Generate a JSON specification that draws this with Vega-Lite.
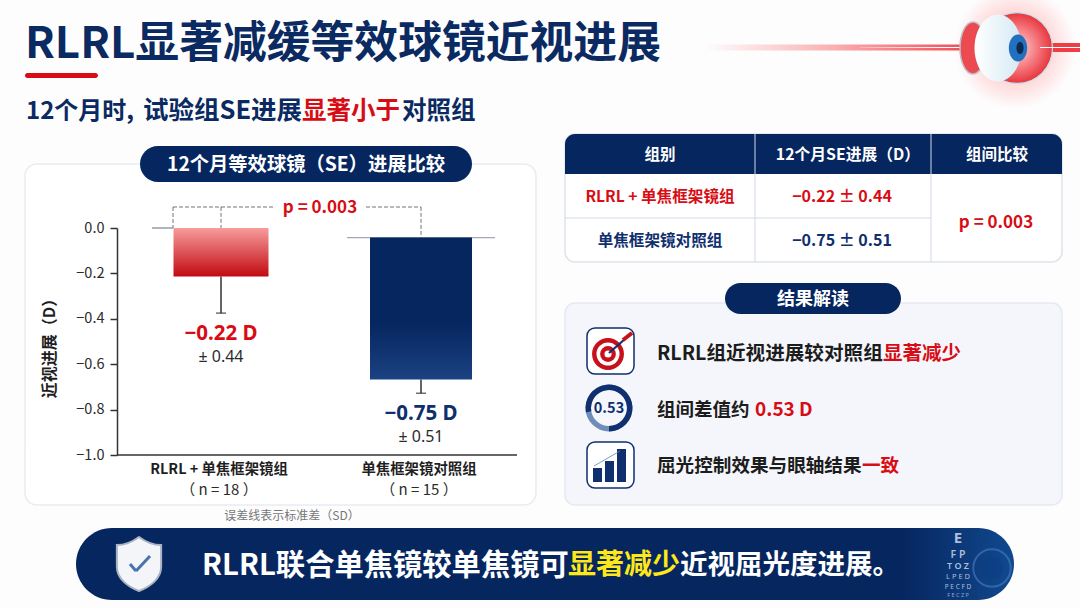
{
  "$schema": "https://vega.github.io/schema/vega-lite/v6.json",
  "width": 1080,
  "height": 608,
  "autosize": "none",
  "padding": 0,
  "background": "#fdfdfe",
  "config": {"view": {"stroke": null}, "font": "Noto Sans CJK SC"},
  "data": {"values": [{"item": "frame"}]},
  "resolve": {"scale": {"x": "independent", "y": "independent", "color": "independent"}, "axis": {"x": "independent", "y": "independent"}},
  "layer": [
    {"mark": {"type": "point", "shape": "circle", "x": 1015, "y": 48, "size": 15000, "filled": true, "opacity": 1, "fill": {"gradient": "radial", "stops": [{"offset": 0, "color": "#ffc0c0"}, {"offset": 0.62, "color": "#ffdcdc"}, {"offset": 1, "color": "#fdfdfe"}]}}, "encoding": {}},
    {"mark": {"type": "rect", "x": 705, "x2": 975, "y": 44.5, "y2": 50.5, "fill": {"gradient": "linear", "x1": 0, "y1": 0, "x2": 1, "y2": 0, "stops": [{"offset": 0, "color": "#fdfdfe"}, {"offset": 0.45, "color": "#fbb4b6"}, {"offset": 1, "color": "#f0464c"}]}}, "encoding": {}},
    {"mark": {"type": "rect", "x": 860, "x2": 1080, "y": 47, "y2": 48, "fill": {"gradient": "linear", "x1": 0, "y1": 0, "x2": 1, "y2": 0, "stops": [{"offset": 0, "color": "#fbb4b6"}, {"offset": 0.4, "color": "#ffffff"}, {"offset": 1, "color": "#ffffff"}]}}, "encoding": {}},
    {"mark": {"type": "point", "shape": "M-0.5,0 A0.5,1 0 1,1 0.5,0 A0.5,1 0 1,1 -0.5,0 Z", "x": 973, "y": 48, "size": 2700, "filled": true, "opacity": 1, "fill": "#ea4a50", "stroke": "#b9bec8", "strokeWidth": 1.5}, "encoding": {}},
    {"mark": {"type": "rect", "x": 1052, "x2": 1080, "y": 43, "y2": 52, "fill": "#ee3d44"}, "encoding": {}},
    {"mark": {"type": "point", "shape": "circle", "x": 1017, "y": 48, "size": 5030, "filled": true, "opacity": 1, "stroke": "#bfe3ef", "strokeWidth": 1.2, "fill": {"gradient": "radial", "stops": [{"offset": 0, "color": "#ffd9da"}, {"offset": 0.6, "color": "#f4747a"}, {"offset": 1, "color": "#e8353c"}]}}, "encoding": {}},
    {"mark": {"type": "rect", "x": 1040, "x2": 1080, "y": 47, "y2": 48, "fill": "#ffffff"}, "encoding": {}},
    {"mark": {"type": "point", "shape": "M-0.7,0 A0.7,1 0 1,1 0.7,0 A0.7,1 0 1,1 -0.7,0 Z", "x": 998, "y": 48, "size": 4500, "filled": true, "opacity": 1, "fill": {"gradient": "linear", "x1": 0, "y1": 0, "x2": 1, "y2": 0, "stops": [{"offset": 0, "color": "#ffffff"}, {"offset": 1, "color": "#d5e9f4"}]}}, "encoding": {}},
    {"mark": {"type": "point", "shape": "M-0.68,0 A0.68,1 0 1,1 0.68,0 A0.68,1 0 1,1 -0.68,0 Z", "x": 1018, "y": 48, "size": 729, "filled": true, "opacity": 1, "fill": "#2270bf"}, "encoding": {}},
    {"mark": {"type": "point", "shape": "M-0.6,0 A0.6,1 0 1,1 0.6,0 A0.6,1 0 1,1 -0.6,0 Z", "x": 1020, "y": 48, "size": 144, "filled": true, "opacity": 1, "fill": "#0c2b52"}, "encoding": {}},

    {"mark": {"type": "text", "text": "RLRL显著减缓等效球镜近视进展", "x": 25, "y": 58, "align": "left", "baseline": "alphabetic", "fontSize": 43.8, "fontWeight": 700, "color": "#0a2a61"}, "encoding": {}},
    {"mark": {"type": "rect", "x": 25, "x2": 98, "y": 73, "y2": 78, "fill": "#d80c14", "cornerRadius": 2.5}, "encoding": {}},
    {"mark": {"type": "text", "text": "12个月时,", "x": 26, "y": 119, "align": "left", "baseline": "alphabetic", "fontSize": 24, "fontWeight": 700, "color": "#0a2a61"}, "encoding": {}},
    {"mark": {"type": "text", "text": "试验组SE进展", "x": 143, "y": 119, "align": "left", "baseline": "alphabetic", "fontSize": 25.5, "fontWeight": 700, "color": "#0a2a61"}, "encoding": {}},
    {"mark": {"type": "text", "text": "显著小于", "x": 302, "y": 119, "align": "left", "baseline": "alphabetic", "fontSize": 24.5, "fontWeight": 700, "color": "#d80c14"}, "encoding": {}},
    {"mark": {"type": "text", "text": "对照组", "x": 402, "y": 119, "align": "left", "baseline": "alphabetic", "fontSize": 24.5, "fontWeight": 700, "color": "#0a2a61"}, "encoding": {}},

    {"mark": {"type": "rect", "x": 25, "x2": 536, "y": 164, "y2": 505, "fill": "#ffffff", "stroke": "#e8ebf2", "strokeWidth": 1.5, "cornerRadius": 12}, "encoding": {}},
    {"mark": {"type": "rect", "x": 140, "x2": 472, "y": 146, "y2": 182, "fill": "#06265f", "cornerRadius": 18}, "encoding": {}},
    {"mark": {"type": "text", "text": "12个月等效球镜（SE）进展比较", "x": 306, "y": 165, "align": "center", "baseline": "middle", "fontSize": 19.3, "fontWeight": 700, "color": "#ffffff"}, "encoding": {}},

    {
      "data": {"values": [
        {"group": "RLRL + 单焦框架镜组", "top": 0},
        {"group": "单焦框架镜对照组", "top": -0.042}
      ]},
      "mark": {"type": "rule", "opacity": 0},
      "encoding": {
        "x": {
          "field": "group", "type": "nominal",
          "scale": {"type": "band", "domain": ["RLRL + 单焦框架镜组", "单焦框架镜对照组"], "range": [121, 521]},
          "axis": {"title": null, "orient": "bottom", "offset": -153, "zindex": 5, "domain": false, "ticks": false, "labelAngle": 0, "labelPadding": 7.5, "labelOffset": -2, "labelFontSize": 14.4, "labelFontWeight": 600, "labelColor": "#1f1f1f", "labelLimit": 0}
        },
        "y": {
          "field": "top", "type": "quantitative",
          "scale": {"domain": [-1, 0], "range": [455, 228], "nice": false, "zero": false},
          "axis": {"title": "近视进展（D）", "titleFontSize": 16, "titleFontWeight": 700, "titleColor": "#1f1f1f", "titleX": -60, "titleY": 344, "orient": "left", "offset": -117, "zindex": 5, "values": [-1, -0.8, -0.6, -0.4, -0.2, 0], "format": ".1f", "grid": false, "tickSize": 7, "tickWidth": 1.5, "tickColor": "#333333", "domainColor": "#333333", "domainWidth": 1.5, "labelFontSize": 14.5, "labelColor": "#2b2b2b", "labelPadding": 6}
        }
      }
    },
    {
      "data": {"values": [
        {"group": "RLRL + 单焦框架镜组", "top": 0, "bottom": -0.214, "whisker": -0.375, "bracket": 0.093, "mean": "−0.22 D", "sd": "± 0.44", "n": "（ n = 18 ）"},
        {"group": "单焦框架镜对照组", "top": -0.042, "bottom": -0.667, "whisker": -0.728, "bracket": 0.093, "mean": "−0.75 D", "sd": "± 0.51", "n": "（ n = 15 ）"}
      ]},
      "encoding": {
        "x": {"field": "group", "type": "nominal", "axis": null, "scale": {"type": "band", "domain": ["RLRL + 单焦框架镜组", "单焦框架镜对照组"], "range": [121, 521]}},
        "y": {"field": "top", "type": "quantitative", "axis": null, "scale": {"domain": [-1, 0], "range": [455, 228], "nice": false, "zero": false}}
      },
      "layer": [
        {
          "mark": {"type": "rule", "strokeWidth": 1, "strokeDash": [4, 2], "color": "#6f747c"},
          "encoding": {
            "y": {"field": "bracket", "type": "quantitative", "axis": null, "scale": {"domain": [-1, 0], "range": [455, 228], "nice": false, "zero": false}},
            "y2": {"field": "top"}
          }
        },
        {
          "mark": {"type": "tick", "size": 148, "thickness": 1.2, "color": "#7c8494"},
          "transform": [{"filter": "datum.n == '（ n = 15 ）'"}],
          "encoding": {}
        },
        {
          "mark": {"type": "rule", "x": 152, "x2": 173, "strokeWidth": 1.2, "color": "#7c8494"},
          "transform": [{"filter": "datum.n == '（ n = 18 ）'"}],
          "encoding": {"x": null}
        },
        {
          "mark": {"type": "rule", "strokeWidth": 1.5, "color": "#333333"},
          "encoding": {
            "y": {"field": "bottom", "type": "quantitative", "axis": null, "scale": {"domain": [-1, 0], "range": [455, 228], "nice": false, "zero": false}},
            "y2": {"field": "whisker"}
          }
        },
        {
          "mark": {"type": "tick", "size": 10, "thickness": 1.5, "color": "#333333"},
          "encoding": {
            "y": {"field": "whisker", "type": "quantitative", "axis": null, "scale": {"domain": [-1, 0], "range": [455, 228], "nice": false, "zero": false}}
          }
        },
        {
          "mark": {"type": "bar", "size": 95, "fill": {"gradient": "linear", "x1": 0, "y1": 0, "x2": 0, "y2": 1, "stops": [{"offset": 0, "color": "#f79c9c"}, {"offset": 1, "color": "#c10a11"}]}},
          "transform": [{"filter": "datum.n == '（ n = 18 ）'"}],
          "encoding": {"y2": {"field": "bottom"}}
        },
        {
          "mark": {"type": "bar", "size": 102, "fill": {"gradient": "linear", "x1": 0, "y1": 0, "x2": 0, "y2": 1, "stops": [{"offset": 0, "color": "#06265f"}, {"offset": 0.6, "color": "#06265f"}, {"offset": 1, "color": "#1b4282"}]}},
          "transform": [{"filter": "datum.n == '（ n = 15 ）'"}],
          "encoding": {"y2": {"field": "bottom"}}
        },
        {
          "mark": {"type": "text", "dy": 20.5, "fontSize": 20.5, "fontWeight": 700, "baseline": "middle", "font": "Noto Sans"},
          "encoding": {
            "y": {"field": "whisker", "type": "quantitative", "axis": null, "scale": {"domain": [-1, 0], "range": [455, 228], "nice": false, "zero": false}},
            "text": {"field": "mean"},
            "color": {"field": "group", "type": "nominal", "legend": null, "scale": {"domain": ["RLRL + 单焦框架镜组", "单焦框架镜对照组"], "range": ["#d80c14", "#0f2f6e"]}}
          }
        },
        {
          "mark": {"type": "text", "dy": 43.5, "fontSize": 16, "baseline": "middle", "color": "#2b2b2b", "font": "Noto Sans"},
          "encoding": {
            "y": {"field": "whisker", "type": "quantitative", "axis": null, "scale": {"domain": [-1, 0], "range": [455, 228], "nice": false, "zero": false}},
            "text": {"field": "sd"}
          }
        },
        {
          "mark": {"type": "text", "y": 490, "dx": -2, "fontSize": 15, "baseline": "middle", "color": "#2b2b2b"},
          "encoding": {"y": null, "text": {"field": "n"}}
        }
      ]
    },
    {"mark": {"type": "rule", "strokeWidth": 1.5, "color": "#333333"}, "encoding": {"x": {"value": 117}, "x2": {"value": 517}, "y": {"value": 455}}},
    {"mark": {"type": "rule", "strokeWidth": 1, "strokeDash": [4, 2], "color": "#6f747c"}, "encoding": {"x": {"value": 173}, "x2": {"value": 275}, "y": {"value": 207}}},
    {"mark": {"type": "rule", "strokeWidth": 1, "strokeDash": [4, 2], "color": "#6f747c"}, "encoding": {"x": {"value": 366}, "x2": {"value": 421}, "y": {"value": 207}}},
    {"mark": {"type": "rule", "strokeWidth": 1, "strokeDash": [4, 2], "color": "#6f747c"}, "encoding": {"x": {"value": 173}, "y": {"value": 207}, "y2": {"value": 228}}},
    {"mark": {"type": "text", "text": "p = 0.003", "x": 320, "y": 208, "align": "center", "baseline": "middle", "fontSize": 17, "fontWeight": 700, "color": "#d80c14"}, "encoding": {}},
    {"mark": {"type": "text", "text": "误差线表示标准差（SD）", "x": 292, "y": 516, "align": "center", "baseline": "middle", "fontSize": 12, "color": "#777777"}, "encoding": {}},

    {"mark": {"type": "rect", "x": 565, "x2": 1062, "y": 134, "y2": 262, "fill": "#ffffff", "stroke": "#dde2ec", "strokeWidth": 1.5, "cornerRadius": 10}, "encoding": {}},
    {"mark": {"type": "rect", "x": 565, "x2": 1062, "y": 134, "y2": 174, "fill": "#06265f", "cornerRadiusTopLeft": 10, "cornerRadiusTopRight": 10}, "encoding": {}},
    {"mark": {"type": "rule", "strokeWidth": 1, "color": "#d3d9e6"}, "encoding": {"x": {"value": 755}, "y": {"value": 134}, "y2": {"value": 262}}},
    {"mark": {"type": "rule", "strokeWidth": 1, "color": "#d3d9e6"}, "encoding": {"x": {"value": 931}, "y": {"value": 134}, "y2": {"value": 262}}},
    {"mark": {"type": "rule", "strokeWidth": 1, "color": "#d3d9e6"}, "encoding": {"x": {"value": 565}, "x2": {"value": 931}, "y": {"value": 218}}},
    {"mark": {"type": "text", "text": "组别", "x": 660, "y": 154.5, "align": "center", "baseline": "middle", "fontSize": 15.5, "fontWeight": 700, "color": "#ffffff"}, "encoding": {}},
    {"mark": {"type": "text", "text": "12个月SE进展（D）", "x": 848, "y": 154.5, "align": "center", "baseline": "middle", "fontSize": 15.8, "fontWeight": 700, "color": "#ffffff"}, "encoding": {}},
    {"mark": {"type": "text", "text": "组间比较", "x": 997, "y": 154.5, "align": "center", "baseline": "middle", "fontSize": 15.5, "fontWeight": 700, "color": "#ffffff"}, "encoding": {}},
    {
      "data": {"values": [
        {"group": "RLRL + 单焦框架镜组", "progress": "−0.22 ± 0.44"},
        {"group": "单焦框架镜对照组", "progress": "−0.75 ± 0.51"}
      ]},
      "encoding": {
        "y": {"field": "group", "type": "nominal", "axis": null, "scale": {"type": "band", "domain": ["RLRL + 单焦框架镜组", "单焦框架镜对照组"], "range": [174, 262]}},
        "color": {"field": "group", "type": "nominal", "legend": null, "scale": {"domain": ["RLRL + 单焦框架镜组", "单焦框架镜对照组"], "range": ["#d80c14", "#0f2f6e"]}}
      },
      "layer": [
        {"mark": {"type": "text", "x": 660, "dy": 0.5, "baseline": "middle", "fontSize": 15.6, "fontWeight": 700}, "encoding": {"text": {"field": "group"}}},
        {"mark": {"type": "text", "x": 842, "dy": 0.5, "baseline": "middle", "fontSize": 16, "fontWeight": 700}, "encoding": {"text": {"field": "progress"}}}
      ]
    },
    {"mark": {"type": "text", "text": "p = 0.003", "x": 996, "y": 222.5, "align": "center", "baseline": "middle", "fontSize": 17, "fontWeight": 700, "color": "#d80c14"}, "encoding": {}},

    {"mark": {"type": "rect", "x": 565, "x2": 1062, "y": 303, "y2": 505, "fill": "#f4f6fb", "stroke": "#e6e9f1", "strokeWidth": 1.5, "cornerRadius": 10}, "encoding": {}},
    {"mark": {"type": "rect", "x": 725, "x2": 901, "y": 283, "y2": 314, "fill": "#06265f", "cornerRadius": 15.5}, "encoding": {}},
    {"mark": {"type": "text", "text": "结果解读", "x": 813, "y": 299.5, "align": "center", "baseline": "middle", "fontSize": 18, "fontWeight": 700, "color": "#ffffff"}, "encoding": {}},

    {"mark": {"type": "rect", "x": 587, "x2": 634, "y": 328, "y2": 374, "fill": "#ffffff", "stroke": "#0f2f6e", "strokeWidth": 1.5, "cornerRadius": 8}, "encoding": {}},
    {"mark": {"type": "point", "shape": "circle", "x": 608, "y": 354, "size": 1018, "filled": true, "opacity": 1, "fill": "#c8101a"}, "encoding": {}},
    {"mark": {"type": "point", "shape": "circle", "x": 608, "y": 354, "size": 530, "filled": true, "opacity": 1, "fill": "#ffffff"}, "encoding": {}},
    {"mark": {"type": "point", "shape": "circle", "x": 608, "y": 354, "size": 250, "filled": true, "opacity": 1, "fill": "#c8101a"}, "encoding": {}},
    {"mark": {"type": "point", "shape": "circle", "x": 608, "y": 354, "size": 50, "filled": true, "opacity": 1, "fill": "#ffffff"}, "encoding": {}},
    {"mark": {"type": "rule", "strokeWidth": 2.2, "color": "#0f2f6e"}, "encoding": {"x": {"value": 609}, "y": {"value": 353}, "x2": {"value": 625}, "y2": {"value": 339}}},
    {"mark": {"type": "rule", "strokeWidth": 4, "color": "#c8101a"}, "encoding": {"x": {"value": 623}, "y": {"value": 340}, "x2": {"value": 632}, "y2": {"value": 333}}},

    {"mark": {"type": "arc", "x": 609, "y": 408, "innerRadius": 18, "outerRadius": 23.5, "theta": 0, "theta2": 6.2832, "fill": "#6f8db9"}, "encoding": {}},
    {"mark": {"type": "arc", "x": 609, "y": 408, "innerRadius": 18, "outerRadius": 23.5, "theta": -1.75, "theta2": 3.14, "fill": "#0f2f6e"}, "encoding": {}},
    {"mark": {"type": "text", "text": "0.53", "x": 609, "y": 409, "align": "center", "baseline": "middle", "fontSize": 14.5, "fontWeight": 700, "color": "#0f2f6e"}, "encoding": {}},

    {"mark": {"type": "rect", "x": 587, "x2": 634, "y": 442, "y2": 488, "fill": "#ffffff", "stroke": "#0f2f6e", "strokeWidth": 1.5, "cornerRadius": 8}, "encoding": {}},
    {"mark": {"type": "rect", "x": 593, "x2": 602, "y": 468, "y2": 482, "fill": "#0f2f6e"}, "encoding": {}},
    {"mark": {"type": "rect", "x": 605, "x2": 614, "y": 461, "y2": 482, "fill": "#0f2f6e"}, "encoding": {}},
    {"mark": {"type": "rect", "x": 617, "x2": 626, "y": 449, "y2": 482, "fill": "#0f2f6e"}, "encoding": {}},
    {"mark": {"type": "rule", "strokeWidth": 0.8, "color": "#5d7fb3"}, "encoding": {"x": {"value": 594}, "y": {"value": 466}, "x2": {"value": 620}, "y2": {"value": 451}}},

    {"mark": {"type": "text", "text": "RLRL组近视进展较对照组", "x": 657, "y": 354, "align": "left", "baseline": "middle", "fontSize": 19.6, "fontWeight": 700, "color": "#1c1c1c"}, "encoding": {}},
    {"mark": {"type": "text", "text": "显著减少", "x": 883, "y": 354, "align": "left", "baseline": "middle", "fontSize": 19.5, "fontWeight": 700, "color": "#d80c14"}, "encoding": {}},
    {"mark": {"type": "text", "text": "组间差值约", "x": 657, "y": 409.5, "align": "left", "baseline": "middle", "fontSize": 18.5, "fontWeight": 700, "color": "#1c1c1c"}, "encoding": {}},
    {"mark": {"type": "text", "text": "0.53 D", "x": 755, "y": 409.5, "align": "left", "baseline": "middle", "fontSize": 19, "fontWeight": 700, "color": "#d80c14"}, "encoding": {}},
    {"mark": {"type": "text", "text": "屈光控制效果与眼轴结果", "x": 657, "y": 466, "align": "left", "baseline": "middle", "fontSize": 18.6, "fontWeight": 700, "color": "#1c1c1c"}, "encoding": {}},
    {"mark": {"type": "text", "text": "一致", "x": 862, "y": 466, "align": "left", "baseline": "middle", "fontSize": 18.6, "fontWeight": 700, "color": "#d80c14"}, "encoding": {}},

    {"mark": {"type": "rect", "x": 76, "x2": 1014, "y": 528, "y2": 600, "cornerRadius": 36, "fill": {"gradient": "linear", "x1": 0, "y1": 0, "x2": 1, "y2": 0, "stops": [{"offset": 0, "color": "#06265f"}, {"offset": 0.88, "color": "#06265f"}, {"offset": 1, "color": "#11498f"}]}}, "encoding": {}},
    {"mark": {"type": "point", "shape": "M0,-1 C0.3,-0.78 0.6,-0.7 0.82,-0.7 L0.82,0.1 C0.82,0.55 0.4,0.85 0,1 C-0.4,0.85 -0.82,0.55 -0.82,0.1 L-0.82,-0.7 C-0.6,-0.7 -0.3,-0.78 0,-1 Z", "x": 139, "y": 564, "size": 2916, "filled": true, "opacity": 1, "fill": "#f3f5f9", "stroke": "#a9b2c2", "strokeWidth": 2}, "encoding": {}},
    {"mark": {"type": "rule", "strokeWidth": 3, "color": "#4a72ad"}, "encoding": {"x": {"value": 130}, "y": {"value": 564}, "x2": {"value": 136}, "y2": {"value": 571}}},
    {"mark": {"type": "rule", "strokeWidth": 3, "color": "#4a72ad"}, "encoding": {"x": {"value": 136}, "y": {"value": 571}, "x2": {"value": 150}, "y2": {"value": 556}}},
    {"mark": {"type": "text", "text": "RLRL联合单焦镜较单焦镜可", "x": 202, "y": 566, "align": "left", "baseline": "middle", "fontSize": 29.3, "fontWeight": 700, "color": "#ffffff"}, "encoding": {}},
    {"mark": {"type": "text", "text": "显著减少", "x": 568, "y": 566, "align": "left", "baseline": "middle", "fontSize": 28, "fontWeight": 700, "color": "#ffe81a"}, "encoding": {}},
    {"mark": {"type": "text", "text": "近视屈光度进展。", "x": 680, "y": 566, "align": "left", "baseline": "middle", "fontSize": 27.5, "fontWeight": 700, "color": "#ffffff"}, "encoding": {}},
    {"mark": {"type": "point", "shape": "circle", "x": 992, "y": 568, "size": 1400, "filled": false, "opacity": 0.7, "stroke": "#3f74bd", "strokeWidth": 2}, "encoding": {}},
    {"mark": {"type": "point", "shape": "circle", "x": 992, "y": 568, "size": 500, "filled": true, "opacity": 0.6, "fill": "#0b3d84"}, "encoding": {}},
    {"mark": {"type": "text", "text": "E", "x": 958, "y": 538, "align": "center", "baseline": "middle", "fontSize": 15, "fontWeight": 700, "font": "Noto Sans", "color": "#aebfda"}, "encoding": {}},
    {"mark": {"type": "text", "text": "F P", "x": 958, "y": 555, "align": "center", "baseline": "middle", "fontSize": 10.5, "fontWeight": 600, "font": "Noto Sans", "color": "#aebfda"}, "encoding": {}},
    {"mark": {"type": "text", "text": "T O Z", "x": 958, "y": 566, "align": "center", "baseline": "middle", "fontSize": 9, "fontWeight": 600, "font": "Noto Sans", "color": "#aebfda"}, "encoding": {}},
    {"mark": {"type": "text", "text": "L P E D", "x": 958, "y": 577, "align": "center", "baseline": "middle", "fontSize": 7.5, "font": "Noto Sans", "color": "#aebfda"}, "encoding": {}},
    {"mark": {"type": "text", "text": "P E C F D", "x": 958, "y": 586.5, "align": "center", "baseline": "middle", "fontSize": 6.5, "font": "Noto Sans", "color": "#aebfda"}, "encoding": {}},
    {"mark": {"type": "text", "text": "F E C Z P", "x": 958, "y": 595, "align": "center", "baseline": "middle", "fontSize": 5.5, "font": "Noto Sans", "color": "#8fa6c8"}, "encoding": {}}
  ]
}
